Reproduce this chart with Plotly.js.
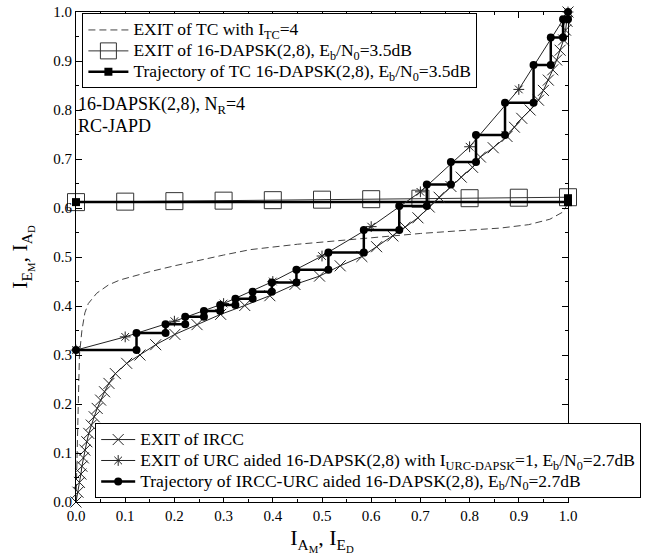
<!DOCTYPE html>
<html><head><meta charset="utf-8">
<script src="https://cdn.plot.ly/plotly-3.0.1.min.js"></script>
<style>body{margin:0;padding:0;background:#fff}</style>
</head><body><div id="chart" style="width:655px;height:557px"></div>
<script>
// EXIT of TC with I_TC=4 (dashed)
const tcExitX = [0, 0.002, 0.004, 0.007, 0.012, 0.018, 0.025, 0.042, 0.066, 0.089, 0.15, 0.2, 0.3, 0.354, 0.45, 0.516, 0.6, 0.7, 0.8, 0.862, 0.92, 0.963, 0.99, 1.0];
const tcExitY = [0, 0.1, 0.2, 0.3, 0.35, 0.386, 0.405, 0.426, 0.443, 0.453, 0.47, 0.482, 0.504, 0.515, 0.526, 0.532, 0.54, 0.548, 0.555, 0.559, 0.566, 0.577, 0.592, 0.61];
// EXIT of 16-DAPSK(2,8), Eb/N0=3.5dB (open squares)
const dapskExitX = [0, 0.1, 0.2, 0.3, 0.4, 0.5, 0.6, 0.7, 0.8, 0.9, 1.0];
const dapskExitY = [0.612, 0.613, 0.614, 0.615, 0.616, 0.617, 0.618, 0.619, 0.620, 0.621, 0.622];
// Trajectory of TC 16-DAPSK(2,8)
const tcTrajX = [0, 1.0, 1.0];
const tcTrajY = [0.612, 0.612, 0.62];
// EXIT of IRCC (x markers)
const irccX = [0, 0.004, 0.007, 0.01, 0.012, 0.015, 0.018, 0.022, 0.026, 0.031, 0.037, 0.043, 0.05, 0.058, 0.067, 0.08, 0.103, 0.13, 0.162, 0.201, 0.246, 0.294, 0.343, 0.394, 0.445, 0.495, 0.537, 0.581, 0.611, 0.644, 0.669, 0.695, 0.718, 0.738, 0.762, 0.783, 0.806, 0.822, 0.848, 0.876, 0.891, 0.906, 0.923, 0.94, 0.95, 0.96, 0.969, 0.977, 0.984, 0.991, 0.995, 0.998, 1.0];
const irccY = [0, 0.02, 0.04, 0.057, 0.073, 0.09, 0.106, 0.123, 0.14, 0.157, 0.174, 0.191, 0.208, 0.225, 0.242, 0.262, 0.283, 0.3, 0.321, 0.342, 0.362, 0.383, 0.401, 0.421, 0.444, 0.461, 0.482, 0.501, 0.521, 0.543, 0.561, 0.58, 0.602, 0.622, 0.644, 0.663, 0.683, 0.704, 0.723, 0.746, 0.765, 0.783, 0.8, 0.82, 0.84, 0.861, 0.882, 0.902, 0.922, 0.943, 0.963, 0.981, 1.0];
// EXIT of URC aided 16-DAPSK(2,8) (asterisks)
const urcX = [0, 0.1, 0.2, 0.3, 0.4, 0.5, 0.6, 0.7, 0.8, 0.9, 1.0];
const urcY = [0.31, 0.337, 0.369, 0.405, 0.45, 0.502, 0.562, 0.633, 0.725, 0.842, 1.0];
// Trajectory of IRCC-URC aided 16-DAPSK(2,8)
const trajX = [0, 0.123, 0.123, 0.182, 0.182, 0.222, 0.222, 0.260, 0.260, 0.293, 0.293, 0.324, 0.324, 0.359, 0.359, 0.398, 0.398, 0.448, 0.448, 0.513, 0.513, 0.585, 0.585, 0.657, 0.657, 0.713, 0.713, 0.762, 0.762, 0.813, 0.813, 0.872, 0.872, 0.930, 0.930, 0.965, 0.965, 0.990, 0.990, 1.0, 1.0];
const trajY = [0.31, 0.31, 0.345, 0.345, 0.363, 0.363, 0.378, 0.378, 0.390, 0.390, 0.402, 0.402, 0.415, 0.415, 0.429, 0.429, 0.448, 0.448, 0.474, 0.474, 0.509, 0.509, 0.555, 0.555, 0.604, 0.604, 0.648, 0.648, 0.694, 0.694, 0.749, 0.749, 0.815, 0.815, 0.892, 0.892, 0.948, 0.948, 0.985, 0.985, 1.0];

const FONT = '"Liberation Serif", "Times New Roman", serif';
const big = s => '<span style="font-size:17.5px">' + s + '</span>';

const traces = [
  {x: tcExitX, y: tcExitY, mode: 'lines', name: big('EXIT of TC with I<sub>TC</sub>=4'),
   line: {color: '#444', width: 1, dash: '7px,4px'}, legend: 'legend'},
  {x: dapskExitX, y: dapskExitY, mode: 'lines+markers', name: big('EXIT of 16-DAPSK(2,8), E<sub>b</sub>/N<sub>0</sub>=3.5dB'),
   line: {color: '#333', width: 1}, marker: {symbol: 'square-open', size: 17, color: '#333', line: {width: 1}},
   cliponaxis: false, legend: 'legend'},
  {x: tcTrajX, y: tcTrajY, mode: 'lines+markers', name: big('Trajectory of TC 16-DAPSK(2,8), E<sub>b</sub>/N<sub>0</sub>=3.5dB'),
   line: {color: '#000', width: 2.5}, marker: {symbol: 'square', size: 8, color: '#000'},
   cliponaxis: false, legend: 'legend'},
  {x: irccX, y: irccY, mode: 'lines+markers', name: big('EXIT of IRCC'),
   line: {color: '#222', width: 1}, marker: {symbol: 'x-thin', size: 11, color: '#222', line: {width: 1, color: '#222'}},
   cliponaxis: false, legend: 'legend2'},
  {x: urcX, y: urcY, mode: 'lines+markers', name: big('EXIT of URC aided 16-DAPSK(2,8) with I<sub>URC-DAPSK</sub>=1, E<sub>b</sub>/N<sub>0</sub>=2.7dB'),
   line: {color: '#222', width: 1}, marker: {symbol: 'asterisk', size: 9, color: '#222', line: {width: 1, color: '#222'}},
   cliponaxis: false, legend: 'legend2'},
  {x: trajX, y: trajY, mode: 'lines+markers', name: big('Trajectory of IRCC-URC aided 16-DAPSK(2,8), E<sub>b</sub>/N<sub>0</sub>=2.7dB'),
   line: {color: '#000', width: 2.5}, marker: {symbol: 'circle', size: 8, color: '#000'},
   cliponaxis: false, legend: 'legend2'}
];

const axisCommon = {
  range: [0, 1], dtick: 0.1, tick0: 0, tickformat: '.1f',
  ticks: 'inside', ticklen: 6, tickwidth: 1, tickcolor: '#000',
  minor: {dtick: 0.05, ticks: 'inside', ticklen: 3, tickcolor: '#000', showgrid: false},
  showline: true, linecolor: '#000', linewidth: 1, mirror: 'ticks',
  showgrid: false, zeroline: false,
  tickfont: {family: FONT, size: 15, color: '#000'},
  automargin: false, fixedrange: true
};

const layout = {
  width: 655, height: 557,
  margin: {l: 76, r: 87, t: 12, b: 55},
  paper_bgcolor: '#fff', plot_bgcolor: '#fff',
  font: {family: FONT, color: '#000'},
  xaxis: Object.assign({}, axisCommon, {
    title: {text: 'I<sub>A<sub>M</sub></sub>, I<sub>E<sub>D</sub></sub>', font: {family: FONT, size: 22, color: '#000'}, standoff: 6}
  }),
  yaxis: Object.assign({}, axisCommon, {
    title: {text: 'I<sub>E<sub>M</sub></sub>, I<sub>A<sub>D</sub></sub>', font: {family: FONT, size: 22, color: '#000'}, standoff: 19}
  }),
  showlegend: true,
  legend: {x: 0.013, y: 0.997, xanchor: 'left', yanchor: 'top', bgcolor: '#fff',
    bordercolor: '#000', borderwidth: 1, font: {family: FONT, size: 13.8, color: '#000'},
    itemwidth: 40, tracegroupgap: 0},
  legend2: {x: 0.039, y: 0.008, xanchor: 'left', yanchor: 'bottom', bgcolor: '#fff',
    bordercolor: '#000', borderwidth: 1, font: {family: FONT, size: 13.8, color: '#000'},
    itemwidth: 34, tracegroupgap: 0},
  annotations: [
    {x: 0, y: 0.81, xref: 'x', yref: 'y', xanchor: 'left', yanchor: 'middle', showarrow: false,
     text: '16-DAPSK(2,8), N<sub>R</sub>=4', font: {family: FONT, size: 18, color: '#000'}},
    {x: 0, y: 0.767, xref: 'x', yref: 'y', xanchor: 'left', yanchor: 'middle', showarrow: false,
     text: 'RC-JAPD', font: {family: FONT, size: 18, color: '#000'}}
  ]
};

Plotly.newPlot('chart', traces, layout, {displayModeBar: false, staticPlot: true});
</script>
</body></html>
